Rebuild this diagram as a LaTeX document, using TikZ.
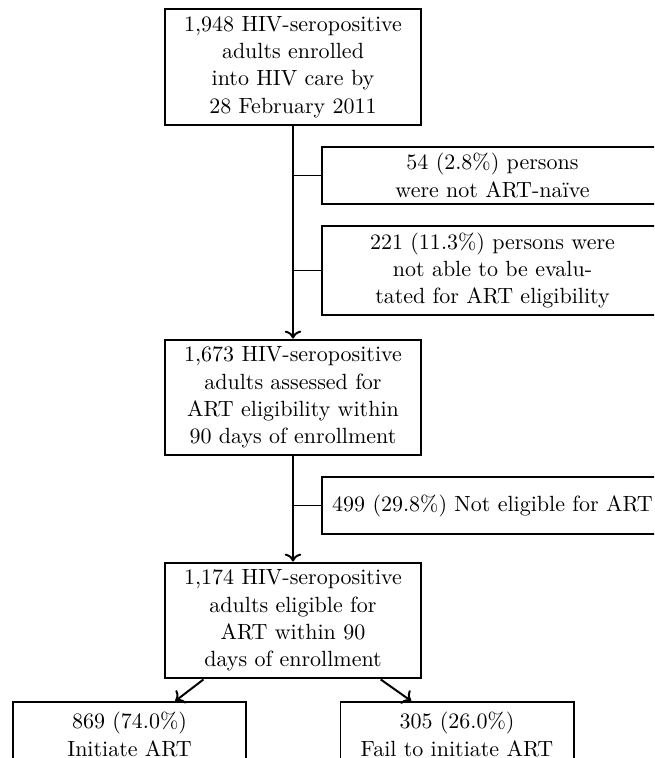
\documentclass[tikz,border=0pt]{standalone}
\usepackage{amsmath,amssymb}
\usepackage{xcolor}
\usetikzlibrary{arrows.meta,calc}

\begin{document}
\begin{tikzpicture}[x=0.4545pt,y=-0.4545pt,
  box/.style={draw,rectangle,line width=0.9pt,align=center,inner sep=3pt,font={\fontsize{10}{12.4}\selectfont}},
  mainbox/.style={box,minimum width=116.4pt,minimum height=52.7pt},
  sidebox/.style={box,minimum width=155.4pt,minimum height=25.9pt},
  endbox/.style={box,minimum width=105.9pt,minimum height=29.5pt,anchor=north}]
\useasboundingbox (0,0) rectangle (654,758);
\clip (0,0) rectangle (654,758);

\node[mainbox] (enrl) at (293,67) {1,948 HIV-seropositive\\ adults enrolled\\ into HIV care by\\ 28 February 2011};
\node[sidebox] (naiv) at (492.5,175.5) {54 (2.8\%) persons\\ were not ART-naïve};
\node[sidebox] (eval) at (492.5,270.5) {221 (11.3\%) persons were\\ not able to be evalu-\\ tated for ART eligibility};
\node[mainbox] (asse) at (293,397.5) {1,673 HIV-seropositive\\ adults assessed for\\ ART eligibility within\\ 90 days of enrollment};
\node[sidebox] (inel) at (492.5,505.5) {499 (29.8\%) Not eligible for ART};
\node[mainbox] (elig) at (293,620.5) {1,174 HIV-seropositive\\ adults eligible for\\ ART within 90\\ days of enrollment};
\node[endbox] (init) at (129.5,701) {869 (74.0\%)\\ Initiate ART};
\node[endbox] (fail) at (457,701) {305 (26.0\%)\\ Fail to initiate ART};

\draw[->,line width=0.9pt] (enrl) -- (asse);
\draw[->,line width=0.9pt] (asse) -- (elig);
\draw[thin] (naiv.west) -- (naiv.west -| enrl.south);
\draw[thin] (eval.west) -- (eval.west -| enrl.south);
\draw[thin] (inel.west) -- (inel.west -| asse.south);
\draw[->,line width=0.9pt] ($(elig.south west)!0.153!(elig.south east)$) -- ($(init.north)!0.39!(init.north east)$);
\draw[->,line width=0.9pt] ($(elig.south east)!0.16!(elig.south west)$) -- ($(fail.north)!0.39!(fail.north west)$);
\end{tikzpicture}
\end{document}
